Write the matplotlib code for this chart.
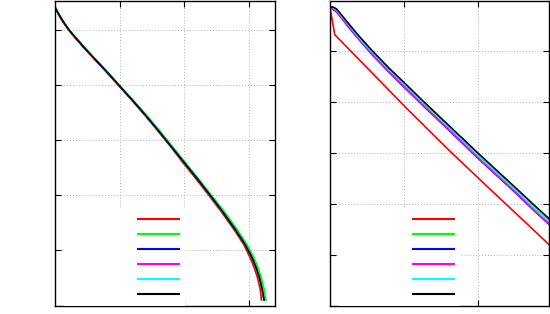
import matplotlib
matplotlib.use("Agg")
import matplotlib.pyplot as plt

# ---------------- data ----------------
series_colors = ["#ff0000", "#00ff00", "#0000ff", "#ff00ff", "#00ffff", "#000000"]
series_labels = [" ", " ", " ", " ", " ", " "]

# left panel
left_y = [5.42, 5.31, 5.21, 5.12, 5.02, 4.89, 4.69, 4.50, 4.25, 3.99, 3.73, 3.46, 3.18,
          2.89, 2.60, 2.31, 2.01, 1.70, 1.37, 1.10, 0.88, 0.68, 0.50, 0.30, 0.10]
left_x_black = [0, 0.05, 0.10, 0.15, 0.21, 0.30, 0.45, 0.60, 0.80, 1.00, 1.20, 1.40, 1.60,
                1.80, 2.00, 2.20, 2.40, 2.60, 2.80, 2.95, 3.05, 3.12, 3.17, 3.21, 3.24]
left_x_red = [0, 0.045, 0.09, 0.14, 0.20, 0.29, 0.44, 0.59, 0.79, 0.99, 1.19, 1.39, 1.59,
              1.79, 1.98, 2.18, 2.38, 2.58, 2.78, 2.93, 3.02, 3.09, 3.14, 3.18, 3.20]
left_x_green = [0, 0.05, 0.10, 0.15, 0.21, 0.31, 0.46, 0.61, 0.81, 1.01, 1.21, 1.42, 1.62,
                1.82, 2.02, 2.22, 2.42, 2.63, 2.83, 2.98, 3.08, 3.15, 3.20, 3.24, 3.27]
left_x_blue = left_x_black
left_x_magenta = left_x_black
left_x_cyan = left_x_black

# right panel
right_x = [0, 0.03, 0.085, 0.15, 0.25, 0.40, 0.58, 0.80, 1.00, 1.29, 1.50, 2.00, 2.50, 2.75, 2.96]
right_y_black = [5.86, 5.88, 5.84, 5.73, 5.55, 5.29, 5.00, 4.67, 4.39, 3.98, 3.69, 3.00, 2.33, 1.99, 1.71]
right_y_cyan = [5.86, 5.87, 5.82, 5.71, 5.53, 5.26, 4.97, 4.64, 4.36, 3.95, 3.66, 2.96, 2.29, 1.95, 1.67]
right_y_green = [5.86, 5.86, 5.81, 5.70, 5.52, 5.25, 4.96, 4.63, 4.35, 3.94, 3.65, 2.95, 2.28, 1.94, 1.66]
right_y_magenta = [5.86, 5.85, 5.79, 5.68, 5.49, 5.23, 4.93, 4.60, 4.31, 3.90, 3.61, 2.91, 2.24, 1.89, 1.61]
right_y_blue = [5.86, 5.84, 5.78, 5.67, 5.48, 5.22, 4.92, 4.59, 4.30, 3.89, 3.60, 2.90, 2.23, 1.88, 1.60]
right_x_red = [0, 0.064, 0.50, 1.03, 1.62, 2.20, 2.75, 2.96]
right_y_red = [5.86, 5.33, 4.68, 3.89, 3.04, 2.24, 1.49, 1.20]

left_xticks = [1, 2, 3]
left_yticks = [1, 2, 3, 4, 5]
right_xticks = [1, 2]
right_yticks = [1, 2, 3, 4, 5]

# ---------------- figure ----------------
fig = plt.figure(figsize=(5.5, 3.14), dpi=100)
axL = fig.add_axes([0.1, 0.027, 0.4, 0.971])
axR = fig.add_axes([0.6, 0.027, 0.398, 0.971])

left_xs = [left_x_red, left_x_green, left_x_blue, left_x_magenta, left_x_cyan, left_x_black]
for xs, c, lab in zip(left_xs, series_colors, series_labels):
    axL.plot(xs, left_y, color=c, lw=1.2, label=lab)

right_ys = [right_y_green, right_y_blue, right_y_magenta, right_y_cyan, right_y_black]
axR.plot(right_x_red, right_y_red, color=series_colors[0], lw=1.2, label=series_labels[0])
for ys, c, lab in zip(right_ys, series_colors[1:], series_labels[1:]):
    axR.plot(right_x, ys, color=c, lw=1.2, label=lab)

axL.set_xlim(0, 3.41)
axL.set_ylim(0, 5.54)
axR.set_xlim(0, 2.96)
axR.set_ylim(0, 6)

for ax, xt, yt, w in [(axL, left_xticks, left_yticks, 220), (axR, right_xticks, right_yticks, 219)]:
    ax.set_xticks(xt)
    ax.set_yticks(yt)
    ax.tick_params(direction="in", length=4, width=0.8, top=True, right=True,
                   labelbottom=False, labelleft=False, colors="black")
    ax.grid(True, color="#b0b0b0", linestyle=(0, (1, 2)), linewidth=0.7)
    ax.set_axisbelow(True)
    for s in ax.spines.values():
        s.set_linewidth(1.0)
        s.set_color("black")
    leg = ax.legend(loc="lower left", bbox_to_anchor=(9.0 / w, 0.0), borderaxespad=0,
                    markerfirst=False, fontsize=8, frameon=True, fancybox=False,
                    framealpha=1.0, facecolor="white", edgecolor="none",
                    handlelength=3.7, handletextpad=5.85, borderpad=0.5, labelspacing=0.46)
    for ln in leg.get_lines():
        ln.set_linewidth(1.5)

fig.savefig("out.png", dpi=100)
